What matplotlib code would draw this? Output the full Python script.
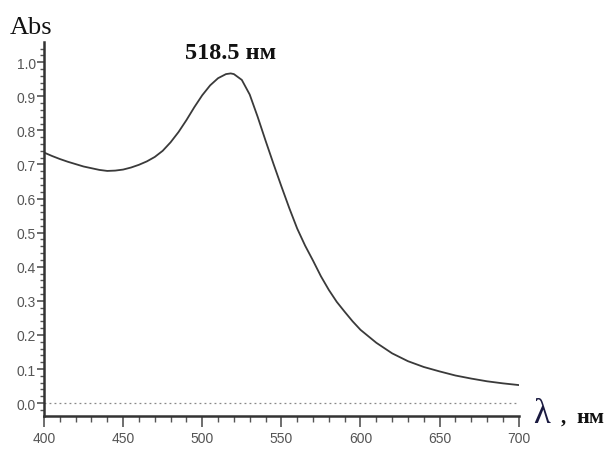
import numpy as np
import matplotlib as mpl
mpl.use('Agg')
import matplotlib.pyplot as plt
from matplotlib.ticker import MultipleLocator, FormatStrFormatter

# absorbance spectrum, values
wavelength = [400, 405, 410, 415, 420, 425, 430, 435, 440, 445, 450, 455, 460,
              465, 470, 475, 480, 485, 490, 495, 500, 505, 510, 515, 518, 520,
              525, 530, 535, 540, 545, 550, 555, 560, 565, 570, 575, 580, 585,
              590, 595, 600, 610, 620, 630, 640, 650, 660, 670, 680, 690, 700]
absorb = [0.735, 0.725, 0.716, 0.708, 0.701, 0.694, 0.689, 0.684, 0.681, 0.682,
          0.685, 0.691, 0.699, 0.709, 0.722, 0.740, 0.765, 0.795, 0.830, 0.868,
          0.903, 0.932, 0.953, 0.965, 0.967, 0.965, 0.948, 0.905, 0.840, 0.770,
          0.702, 0.636, 0.572, 0.512, 0.462, 0.418, 0.372, 0.332, 0.297, 0.268,
          0.240, 0.215, 0.177, 0.146, 0.123, 0.106, 0.093, 0.081, 0.072, 0.064,
          0.058, 0.053]
peak_label = '518.5 нм'

tickfont = ['Liberation Sans Narrow', 'Liberation Sans', 'DejaVu Sans']
serif = ['Liberation Serif', 'DejaVu Serif']

fig = plt.figure(figsize=(6.11, 4.52), dpi=100)
ax = fig.add_axes([0.072, 0.078, 0.777, 0.826])

ax.plot(wavelength, absorb, color='#3a3a3a', lw=1.3)
ax.axhline(0.0, color='#888888', lw=0.9, ls=(0, (1.5, 2.5)))

ax.set_xlim(400, 700)
ax.set_ylim(-0.037, 1.058)
ax.xaxis.set_major_locator(MultipleLocator(50))
ax.xaxis.set_minor_locator(MultipleLocator(10))
ax.yaxis.set_minor_locator(MultipleLocator(0.02))
ax.yaxis.set_major_formatter(FormatStrFormatter('%.1f'))
ax.set_yticks(np.arange(0, 1.01, 0.1))

for s in ['top', 'right']:
    ax.spines[s].set_visible(False)
for s in ['left', 'bottom']:
    ax.spines[s].set_linewidth(1.8)
    ax.spines[s].set_color('#333333')

ax.tick_params(axis='x', which='major', length=8, width=1.2, color='#555555', pad=3)
ax.tick_params(axis='x', which='minor', length=4, width=1.0, color='#555555')
ax.tick_params(axis='y', which='major', length=5, width=1.2, color='#555555', pad=1)
ax.tick_params(axis='y', which='minor', length=3, width=1.0, color='#555555')
for lab in ax.get_xticklabels() + ax.get_yticklabels():
    lab.set_family(tickfont)
    lab.set_fontsize(10)
    lab.set_color('#555555')

fig.text(10 / 611, 1 - 34 / 452, 'Abs', family=serif, fontsize=19, color='#111111')
fig.text(231 / 611, 1 - 59 / 452, peak_label, family=serif, fontsize=17.5,
         fontweight='bold', ha='center', color='#111111')
fig.text(533 / 611, 1 - 423 / 452, 'λ', family=serif, fontsize=25, color='#1a1a40')
fig.text(561 / 611, 1 - 423 / 452, ',', family=serif, fontsize=15,
         fontweight='bold', color='#111111')
fig.text(576 / 611, 1 - 423 / 452, 'нм', family=serif, fontsize=16,
         fontweight='bold', color='#111111')

fig.savefig('out.png', dpi=100)
